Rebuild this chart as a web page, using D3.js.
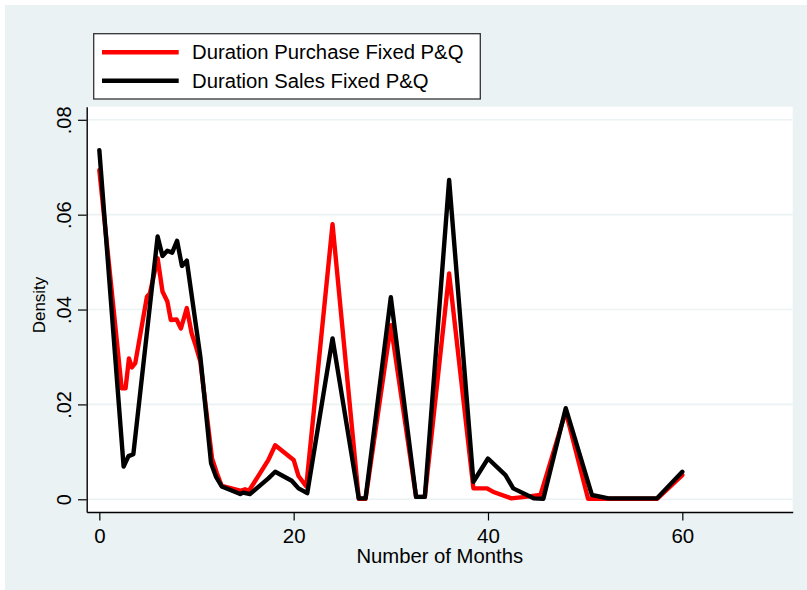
<!DOCTYPE html>
<html>
<head>
<meta charset="utf-8">
<script src="https://cdn.jsdelivr.net/npm/d3@7"></script>
<style>
  html, body { margin: 0; padding: 0; background: #ffffff; }
  svg { display: block; font-family: "Liberation Sans", Arial, Helvetica, sans-serif; }
</style>
</head>
<body>
<svg id="chart" width="807" height="590"></svg>
<script>
// Density of contract duration (months), purchase vs. sales with fixed P&Q
const purchaseMonths = [0, 2.3, 2.7, 3.05, 3.35, 3.7, 4.9, 5.2, 6, 6.5, 7, 7.35, 7.95, 8.4, 9, 9.5, 9.9, 10.4,
  11.6, 12.1, 12.6, 14.5, 15, 15.4, 17.4, 18.1, 20, 20.5, 21.3, 24, 26.7, 27.4, 30, 32.6, 33.5, 36,
  38.5, 39.9, 40.5, 42.4, 43.8, 45.4, 48, 50.3, 52.4, 57.4, 60];
const purchaseDensity = [0.0694, 0.0234, 0.0234, 0.0297, 0.0278, 0.0287, 0.0427, 0.0434, 0.0508, 0.0438, 0.0417,
  0.0378, 0.0379, 0.036, 0.0403, 0.035, 0.0325, 0.029, 0.0086, 0.0055, 0.0028, 0.0018, 0.0021, 0.0018,
  0.0083, 0.0114, 0.0083, 0.0049, 0.0027, 0.058, 0.0001, 0.0001, 0.0367, 0.0005, 0.0005, 0.0476,
  0.0023, 0.0023, 0.0016, 0.0002, 0.0005, 0.0009, 0.0185, 0.0001, 0.0001, 0.0001, 0.0051];

const salesMonths = [0, 2.5, 3, 3.5, 6, 6.5, 7, 7.5, 8, 8.5, 9, 10.4, 11.5, 12, 12.6, 14.5, 14.8, 15.5, 17.4,
  18.1, 19.8, 20.5, 21.4, 24, 26.7, 27.4, 30, 32.6, 33.5, 36, 38.5, 40, 41.8, 42.6, 44.7, 45.7, 48,
  50.7, 52.4, 57.4, 60];
const salesDensity = [0.0736, 0.0069, 0.0091, 0.0095, 0.0554, 0.0513, 0.0524, 0.052, 0.0545, 0.0492, 0.0503,
  0.030, 0.0076, 0.0048, 0.0027, 0.0011, 0.0014, 0.0011, 0.0044, 0.0058, 0.0039, 0.0023, 0.0013,
  0.0339, 0.0002, 0.0002, 0.0426, 0.0005, 0.0005, 0.0673, 0.0037, 0.0086, 0.0051, 0.0023, 0.0002,
  0.0001, 0.0192, 0.0009, 0.0002, 0.0002, 0.0058];

const seriesNames = ["Duration Purchase Fixed P&Q", "Duration Sales Fixed P&Q"];
const seriesColors = ["#ff0000", "#000000"];
const xTicks = [0, 20, 40, 60];
const yTicks = [0, 0.02, 0.04, 0.06, 0.08];
const xTitle = "Number of Months";
const yTitle = "Density";

const svg = d3.select("#chart");
const bg = "#eaf2f3";

// graph region background
svg.append("rect").attr("x", 5).attr("y", 5).attr("width", 802).attr("height", 585).attr("fill", bg);

const plot = { left: 86.7, right: 792.7, top: 106.7, bottom: 512 };
svg.append("rect")
  .attr("x", plot.left).attr("y", plot.top)
  .attr("width", plot.right - plot.left).attr("height", plot.bottom - plot.top)
  .attr("fill", "#ffffff");

const x = d3.scaleLinear().domain([-1.3, 71.36]).range([plot.left, plot.right]);
const y = d3.scaleLinear().domain([-0.00268, 0.08276]).range([plot.bottom, plot.top]);

// horizontal grid lines
svg.append("g").selectAll("line").data(yTicks).join("line")
  .attr("x1", plot.left).attr("x2", plot.right)
  .attr("y1", d => y(d)).attr("y2", d => y(d))
  .attr("stroke", bg).attr("stroke-width", 1.6);

// series lines
const seriesData = [
  purchaseMonths.map((m, i) => [m, purchaseDensity[i]]),
  salesMonths.map((m, i) => [m, salesDensity[i]])
];
const line = d3.line().x(d => x(d[0])).y(d => y(d[1]));
seriesData.forEach((pts, i) => {
  svg.append("path").datum(pts)
    .attr("d", line)
    .attr("fill", "none")
    .attr("stroke", seriesColors[i])
    .attr("stroke-width", 4.4)
    .attr("stroke-linejoin", "round")
    .attr("stroke-linecap", "round");
});

// y axis
const fmtY = d => d === 0 ? "0" : d3.format(".2f")(d).replace(/^0/, "");
const yAxis = svg.append("g")
  .attr("transform", `translate(${plot.left},0)`)
  .call(d3.axisLeft(y).tickValues(yTicks).tickFormat(fmtY).tickSize(8.7).tickSizeOuter(0));
yAxis.select(".domain").attr("stroke", "#000").attr("stroke-width", 1.4);
yAxis.selectAll(".tick line").attr("stroke", "#000").attr("stroke-width", 1.2);
yAxis.selectAll(".tick text")
  .attr("x", null).attr("dy", null)
  .attr("transform", "translate(-16,0) rotate(-90)")
  .attr("text-anchor", "middle")
  .attr("font-size", 20)
  .attr("font-family", "Liberation Sans, Arial, sans-serif")
  .attr("fill", "#000");

// x axis
const xAxis = svg.append("g")
  .attr("transform", `translate(0,${plot.bottom})`)
  .call(d3.axisBottom(x).tickValues(xTicks).tickFormat(d3.format("d")).tickSize(8.5).tickSizeOuter(0));
xAxis.select(".domain").attr("stroke", "#000").attr("stroke-width", 1.4);
xAxis.selectAll(".tick line").attr("stroke", "#000").attr("stroke-width", 1.2);
xAxis.selectAll(".tick text")
  .attr("y", null).attr("dy", null)
  .attr("transform", "translate(0,31.3) scale(1.05,1)")
  .attr("text-anchor", "middle")
  .attr("font-size", 19.5)
  .attr("font-family", "Liberation Sans, Arial, sans-serif")
  .attr("fill", "#000");

// axis titles
svg.append("text")
  .attr("transform", `translate(${(plot.left + plot.right) / 2},562.5) scale(1.04,1)`)
  .attr("text-anchor", "middle").attr("font-size", 19.5).attr("fill", "#000")
  .text(xTitle);
svg.append("text")
  .attr("transform", "translate(44.6,305) rotate(-90)")
  .attr("text-anchor", "middle").attr("font-size", 17).attr("fill", "#000")
  .text(yTitle);

// legend
const legend = svg.append("g");
legend.append("rect")
  .attr("x", 93.7).attr("y", 33.7).attr("width", 386.6).attr("height", 65.3)
  .attr("fill", "#ffffff").attr("stroke", "#333333").attr("stroke-width", 1.3);
const legendRows = [52.3, 80.7];
seriesNames.forEach((name, i) => {
  legend.append("line")
    .attr("x1", 102).attr("x2", 178.7)
    .attr("y1", legendRows[i]).attr("y2", legendRows[i])
    .attr("stroke", seriesColors[i]).attr("stroke-width", 4.4);
  legend.append("text")
    .attr("transform", `translate(192,${legendRows[i] + 7}) scale(1.04,1)`)
    .attr("font-size", 19.5).attr("fill", "#000")
    .text(name);
});
</script>
</body>
</html>
